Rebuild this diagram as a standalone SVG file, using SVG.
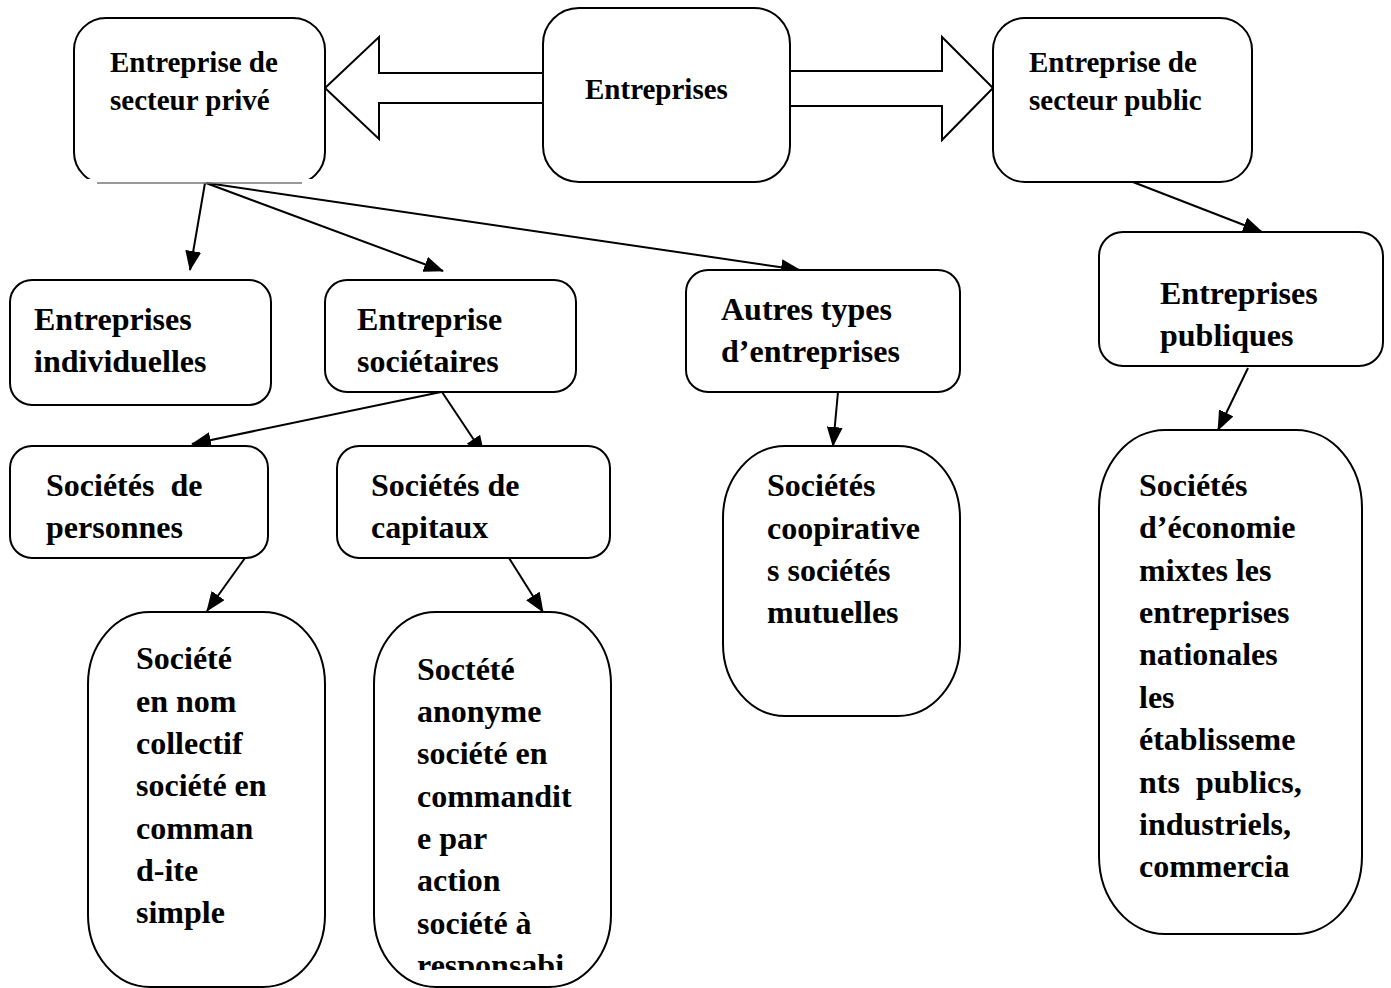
<svg xmlns="http://www.w3.org/2000/svg" width="1391" height="988" viewBox="0 0 1391 988">
<style>
.box{fill:#fff;stroke:#000;stroke-width:2}
.t1{font-family:"Liberation Serif","Times New Roman",serif;font-weight:bold;font-size:29px;fill:#000}
.t2{font-family:"Liberation Serif","Times New Roman",serif;font-weight:bold;font-size:32px;fill:#000}
.con{fill:none;stroke:#000;stroke-width:2}
.blk{fill:#fff;stroke:#000;stroke-width:2;stroke-linejoin:miter}
</style>
<defs>
<marker id="ah" viewBox="0 0 20 16" refX="19" refY="8" markerUnits="userSpaceOnUse" markerWidth="20" markerHeight="16" orient="auto">
<path d="M0,0 L20,8 L0,16 z" fill="#000"/>
</marker>
<clipPath id="cpPrive"><rect x="60" y="0" width="280" height="179"/></clipPath>
<clipPath id="cpBottom"><rect x="360" y="600" width="270" height="370"/></clipPath>
</defs>

<g id="connectors">
<polygon class="blk" points="543,73 379,73 379,37 325,88 379,139 379,103 543,103"/>
<polygon class="blk" points="790,71 942,71 942,37 993,88 942,140 942,106 790,106"/>
<line class="con" x1="205" y1="183" x2="190" y2="270" marker-end="url(#ah)"/>
<line class="con" x1="206" y1="183" x2="443" y2="271" marker-end="url(#ah)"/>
<line class="con" x1="207" y1="183" x2="800" y2="270" marker-end="url(#ah)"/>
<line class="con" x1="1120" y1="177" x2="1262" y2="232" marker-end="url(#ah)"/>
<line class="con" x1="441" y1="392" x2="192" y2="444" marker-end="url(#ah)"/>
<line class="con" x1="442" y1="392" x2="484" y2="455" marker-end="url(#ah)"/>
<line class="con" x1="839" y1="381" x2="833" y2="446" marker-end="url(#ah)"/>
<line class="con" x1="1248" y1="368" x2="1218" y2="430" marker-end="url(#ah)"/>
<line class="con" x1="245" y1="558" x2="207" y2="611" marker-end="url(#ah)"/>
<line class="con" x1="509" y1="558" x2="543" y2="612" marker-end="url(#ah)"/>
</g>

<g id="prive">
<rect class="box" x="74" y="18" width="251" height="166" rx="32" ry="32" clip-path="url(#cpPrive)"/>
<line x1="97" y1="183" x2="302" y2="183" stroke="#777" stroke-width="1.5"/>
<text class="t1" x="110" y="72">Entreprise de</text>
<text class="t1" x="110" y="110">secteur privé</text>
</g>

<g id="entreprises">
<rect class="box" x="543" y="8" width="247" height="174" rx="36" ry="36"/>
<text class="t1" x="585" y="99">Entreprises</text>
</g>

<g id="public">
<rect class="box" x="993" y="18" width="259" height="164" rx="32" ry="32"/>
<text class="t1" x="1029" y="72">Entreprise de</text>
<text class="t1" x="1029" y="110">secteur public</text>
</g>

<g id="individuelles">
<rect class="box" x="10" y="280" width="261" height="125" rx="22" ry="22"/>
<text class="t2" x="34" y="330">Entreprises</text>
<text class="t2" x="34" y="372">individuelles</text>
</g>

<g id="societaires">
<rect class="box" x="325" y="280" width="251" height="112" rx="22" ry="22"/>
<text class="t2" x="357" y="330">Entreprise</text>
<text class="t2" x="357" y="372">sociétaires</text>
</g>

<g id="autres">
<rect class="box" x="686" y="270" width="274" height="122" rx="22" ry="22"/>
<text class="t2" x="721" y="320">Autres types</text>
<text class="t2" x="721" y="362">d’entreprises</text>
</g>

<g id="publiques">
<rect class="box" x="1099" y="232" width="284" height="134" rx="24" ry="24"/>
<text class="t2" x="1160" y="304">Entreprises</text>
<text class="t2" x="1160" y="346">publiques</text>
</g>

<g id="personnes">
<rect class="box" x="10" y="446" width="258" height="112" rx="22" ry="22"/>
<text class="t2" x="46" y="496">Sociétés&#160; de</text>
<text class="t2" x="46" y="538">personnes</text>
</g>

<g id="capitaux">
<rect class="box" x="337" y="446" width="273" height="112" rx="22" ry="22"/>
<text class="t2" x="371" y="496">Sociétés de</text>
<text class="t2" x="371" y="538">capitaux</text>
</g>

<g id="cooperatives">
<rect class="box" x="723" y="446" width="237" height="270" rx="62" ry="72"/>
<text class="t2" x="767" y="496">Sociétés</text>
<text class="t2" x="767" y="539">coopirative</text>
<text class="t2" x="767" y="581">s sociétés</text>
<text class="t2" x="767" y="623">mutuelles</text>
</g>

<g id="economie-mixte">
<rect class="box" x="1099" y="430" width="263" height="504" rx="66" ry="78"/>
<text class="t2" x="1139" y="496">Sociétés</text>
<text class="t2" x="1139" y="538">d’économie</text>
<text class="t2" x="1139" y="581">mixtes les</text>
<text class="t2" x="1139" y="623">entreprises</text>
<text class="t2" x="1139" y="665">nationales</text>
<text class="t2" x="1139" y="708">les</text>
<text class="t2" x="1139" y="750">établisseme</text>
<text class="t2" x="1139" y="793">nts&#160; publics,</text>
<text class="t2" x="1139" y="835">industriels,</text>
<text class="t2" x="1139" y="877">commercia</text>
</g>

<g id="nom-collectif">
<rect class="box" x="88" y="612" width="237" height="375" rx="62" ry="72"/>
<text class="t2" x="136" y="669">Société</text>
<text class="t2" x="136" y="712">en nom</text>
<text class="t2" x="136" y="754">collectif</text>
<text class="t2" x="136" y="796">société en</text>
<text class="t2" x="136" y="839">comman</text>
<text class="t2" x="136" y="881">d-ite</text>
<text class="t2" x="136" y="923">simple</text>
</g>

<g id="anonyme">
<rect class="box" x="374" y="612" width="237" height="375" rx="62" ry="72"/>
<g clip-path="url(#cpBottom)">
<text class="t2" x="417" y="680">Soctété</text>
<text class="t2" x="417" y="722">anonyme</text>
<text class="t2" x="417" y="764">société en</text>
<text class="t2" x="417" y="807">commandit</text>
<text class="t2" x="417" y="849">e par</text>
<text class="t2" x="417" y="891">action</text>
<text class="t2" x="417" y="934">société à</text>
<text class="t2" x="417" y="976">responsabi</text>
</g>
</g>
</svg>
